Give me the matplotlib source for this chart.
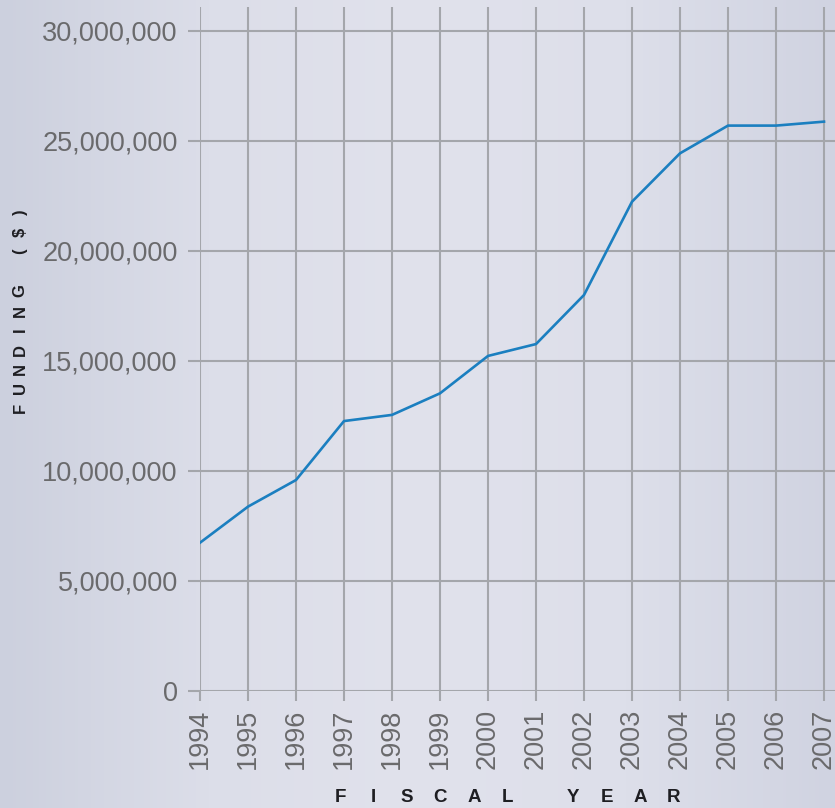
import numpy as np
import matplotlib.pyplot as plt
from matplotlib.ticker import FuncFormatter
from matplotlib.colors import LinearSegmentedColormap

years = [1994, 1995, 1996, 1997, 1998, 1999, 2000, 2001, 2002, 2003, 2004, 2005, 2006, 2007]
funding = [6.74e6, 8.38e6, 9.59e6, 12.27e6, 12.55e6, 13.53e6, 15.23e6, 15.77e6,
           18.0e6, 22.24e6, 24.44e6, 25.7e6, 25.7e6, 25.88e6]
y_ticks = [0, 5e6, 10e6, 15e6, 20e6, 25e6, 30e6]
x_title = 'FISCAL YEAR'
y_title = 'FUNDING ($)'

font = ['Liberation Sans', 'DejaVu Sans']
grid_col = '#a4a6ab'
label_col = '#6a6a6c'

fig = plt.figure(figsize=(8.35, 8.08), dpi=100)

# soft background gradient
bg = fig.add_axes([0, 0, 1, 1], zorder=-10)
cmap = LinearSegmentedColormap.from_list('bg', ['#ccd0de', '#dcdee9', '#e1e2ec', '#dddfea', '#d0d3e1'])
grad = np.linspace(0, 1, 256).reshape(1, -1)
bg.imshow(grad, aspect='auto', cmap=cmap, extent=[0, 1, 0, 1])
bg.axis('off')

ax = fig.add_axes([200/835, 1 - 691/808, 635/835, 684/808])
ax.patch.set_alpha(0)
ax.plot(years, funding, color='#1b7fc0', linewidth=1.9, zorder=3)

ax.set_xlim(1994, 1994 + 635/48)
ax.set_ylim(0, 684/22 * 1e6)
ax.set_xticks(years)
ax.set_yticks(y_ticks)
ax.yaxis.set_major_formatter(FuncFormatter(lambda v, p: f'{int(v):,}'))
ax.grid(True, color=grid_col, linewidth=1.5)
ax.set_axisbelow(True)
for s in ax.spines.values():
    s.set_visible(False)
ax.axhline(0, color=grid_col, linewidth=1.8, zorder=1)

ax.tick_params(axis='y', length=9, width=1.5, color=grid_col, pad=7,
               labelsize=19.5, labelcolor=label_col)
ax.tick_params(axis='x', length=7, width=1.5, color=grid_col, pad=6,
               labelsize=19.5, labelcolor=label_col, labelrotation=90)
for lab in ax.get_xticklabels() + ax.get_yticklabels():
    lab.set_family(font)

# letter-spaced axis titles, one letter at a time
px = 340
for ch in x_title:
    if ch == ' ':
        px += 32
        continue
    fig.text(px/835, 1 - 798/808, ch, ha='center', va='center', fontsize=13.5,
             fontweight='bold', color='#1e1e22', family=font)
    px += 33.5

py = 408
for ch in y_title:
    if ch == ' ':
        py -= 20
        continue
    fig.text(20/835, 1 - py/808, ch, ha='center', va='center', rotation=90, fontsize=12,
             fontweight='bold', color='#1e1e22', family=font)
    py -= 19.5

fig.savefig('out.png', dpi=100)
